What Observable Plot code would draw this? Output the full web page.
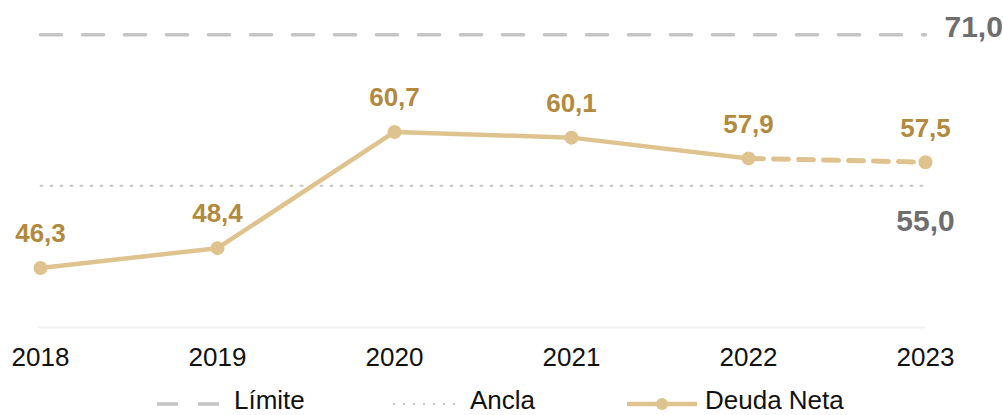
<!DOCTYPE html>
<html><head><meta charset="utf-8">
<script src="https://cdn.jsdelivr.net/npm/d3@7"></script>
<script src="https://cdn.jsdelivr.net/npm/@observablehq/plot@0.6"></script>
<style>
body{margin:0;background:#fff;font-family:"Liberation Sans",Arial,sans-serif;}
#wrap{position:relative;width:1003px;height:415px;overflow:hidden;}
#legend{position:absolute;left:0;top:380px;width:1003px;height:35px;}
.lg{position:absolute;font-size:26px;color:#111;top:6px;line-height:28px;white-space:nowrap;}
</style></head><body>
<div id="wrap"><div id="chart"></div><div id="legend"></div></div>
<script>
const years = ["2018","2019","2020","2021","2022","2023"];
const deuda = [46.3, 48.4, 60.7, 60.1, 57.9, 57.5];
const limite = 71.0;
const ancla = 55.0;
const legendLabels = ["Límite","Ancla","Deuda Neta"];

const gold = "#dfc38f", goldText = "#b18a3e", grayText = "#6e6e6e";
const fmt = v => v.toFixed(1).replace(".", ",");
const data = years.map((y,i)=>({year:y, v:deuda[i]}));
const solid = data.slice(0,5);
const dashed = data.slice(4);
const limRows = years.map(y=>({year:y, v:limite}));
const ancRows = years.map(y=>({year:y, v:ancla}));

const chart = Plot.plot({
  width:1003, height:380,
  marginLeft:38, marginRight:77, marginTop:20, marginBottom:53,
  style:{fontFamily:'"Liberation Sans",Arial,sans-serif', background:"#fff"},
  x:{type:"point", domain:years, padding:0, label:null, tickSize:0, tickPadding:20},
  y:{domain:[40,72.5], axis:null},
  marks:[
    Plot.ruleY([40],{stroke:"#f1f1f1", strokeWidth:2}),
    Plot.axisX({tickSize:0, tickPadding:20, fontSize:26, color:"#111", label:null}),
    Plot.line(limRows,{x:"year", y:"v", stroke:"#c4c4c4", strokeWidth:3.5, strokeDasharray:"21,21"}),
    Plot.line(ancRows,{x:"year", y:"v", stroke:"#c4c4c4", strokeWidth:2, strokeDasharray:"2,8"}),
    Plot.line(solid,{x:"year", y:"v", stroke:gold, strokeWidth:4.5}),
    Plot.line(dashed,{x:"year", y:"v", stroke:gold, strokeWidth:5, strokeDasharray:"15,10"}),
    Plot.dot(data,{x:"year", y:"v", r:7, fill:gold}),
    Plot.text(data,{x:"year", y:"v", text:d=>fmt(d.v), dy:-34, fill:goldText, fontSize:26, fontWeight:"bold"}),
    Plot.text([{year:"2023", v:limite}],{x:"year", y:"v", text:d=>fmt(d.v), dx:19, dy:-7, textAnchor:"start", fill:grayText, fontSize:30, fontWeight:"bold"}),
    Plot.text([{year:"2023", v:ancla}],{x:"year", y:"v", text:d=>fmt(d.v), dy:36, fill:grayText, fontSize:30, fontWeight:"bold"})
  ]
});
document.getElementById("chart").appendChild(chart);

const lg = document.getElementById("legend");
lg.innerHTML = `
<svg width="1003" height="35" style="position:absolute;left:0;top:0">
  <line x1="157" x2="178" y1="24" y2="24" stroke="#c4c4c4" stroke-width="3.5"/>
  <line x1="198" x2="219" y1="24" y2="24" stroke="#c4c4c4" stroke-width="3.5"/>
  <line x1="393" x2="462" y1="24" y2="24" stroke="#c4c4c4" stroke-width="2" stroke-dasharray="2,8"/>
  <line x1="627" x2="697" y1="24" y2="24" stroke="${gold}" stroke-width="4.5"/>
  <circle cx="662" cy="24" r="6" fill="${gold}"/>
</svg>
<span class="lg" style="left:234px">${legendLabels[0]}</span>
<span class="lg" style="left:470px">${legendLabels[1]}</span>
<span class="lg" style="left:705px">${legendLabels[2]}</span>`;
</script>
</body></html>
